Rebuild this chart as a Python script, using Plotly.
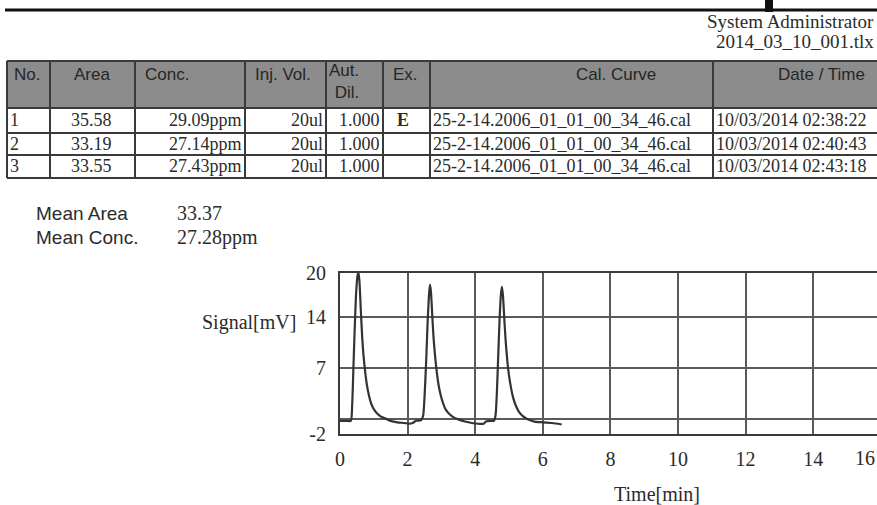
import plotly.graph_objects as go

# ---------------- data ----------------
time_min = [0.00, 0.20, 0.32, 0.36, 0.40, 0.44, 0.48, 0.52, 0.55, 0.58, 0.62, 0.66, 0.70, 0.75,
            0.80, 0.86, 0.92, 1.00, 1.10, 1.20, 1.35, 1.50, 1.70, 1.90, 2.05, 2.15, 2.25, 2.40,
            2.46, 2.50, 2.55, 2.59, 2.63, 2.66, 2.69, 2.73, 2.77, 2.82, 2.87, 2.92, 2.98, 3.05,
            3.12, 3.22, 3.35, 3.50, 3.70, 3.90, 4.10, 4.25, 4.32, 4.45, 4.55,
            4.60, 4.64, 4.68, 4.72, 4.76, 4.79, 4.82, 4.86, 4.90, 4.95, 5.00, 5.06, 5.12, 5.20,
            5.30, 5.42, 5.55, 5.75, 6.00, 6.25, 6.45, 6.56]
signal_mv = [-0.2, -0.2, -0.2, 2.0, 7.5, 13.0, 17.5, 19.7, 20.0, 18.5, 14.5, 11.0, 8.5, 6.3,
             4.6, 3.2, 2.2, 1.4, 0.8, 0.4, 0.1, -0.2, -0.4, -0.5, -0.6, -0.5, -0.2, -0.1,
             0.5, 3.0, 8.0, 13.0, 16.8, 18.4, 17.5, 14.2, 11.0, 8.3, 6.2, 4.6, 3.3, 2.2,
             1.4, 0.8, 0.3, 0.0, -0.3, -0.5, -0.6, -0.6, -0.3, -0.2, -0.2,
             0.5, 3.5, 8.5, 13.5, 17.0, 18.1, 17.0, 13.8, 10.8, 8.0, 6.0, 4.3, 3.0, 1.9,
             1.0, 0.4, 0.0, -0.3, -0.4, -0.5, -0.6, -0.7]

x_ticks = [0, 2, 4, 6, 8, 10, 12, 14]
x_last_tick = "16"
y_tickvals = [-2, 0, 7, 14, 20]
y_ticktext = ["-2", "", "7", "14", "20"]

table_headers = ["No.", "Area", "Conc.", "Inj. Vol.", "Aut.<br>Dil.", "Ex.", "Cal. Curve", "Date / Time"]
row_no = ["1", "2", "3"]
row_area = ["35.58", "33.19", "33.55"]
row_conc = ["29.09ppm", "27.14ppm", "27.43ppm"]
row_inj = ["20ul", "20ul", "20ul"]
row_dil = ["1.000", "1.000", "1.000"]
row_ex = ["E", "", ""]
row_cal = ["25-2-14.2006_01_01_00_34_46.cal"] * 3
row_date = ["10/03/2014 02:38:22", "10/03/2014 02:40:43", "10/03/2014 02:43:18"]
mean_labels = ["Mean Area", "Mean Conc."]
mean_values = ["33.37", "27.28ppm"]

# ---------------- layout helpers ----------------
W, H = 877, 505
PL, PR, PT, PB = 340, 877, 273, 434  # plot area in pixels


def px(x):
    return (x - PL) / (PR - PL)


def py(y):
    return (PB - y) / (PB - PT)


SERIF = "Liberation Serif, Times New Roman, serif"
SANS = "Liberation Sans, Arial, sans-serif"
TXT = "#2b2b2b"

fig = go.Figure()
fig.add_trace(go.Scatter(x=time_min, y=signal_mv, mode="lines",
                         line=dict(color="#333333", width=2.2, shape="spline", smoothing=0.6),
                         showlegend=False, hoverinfo="skip"))

ann = []
shapes = []


def text(x, y, s, size, font=SERIF, anchor="left", bold=False, color=TXT):
    if bold:
        s = "<b>" + s + "</b>"
    ann.append(dict(x=px(x), y=py(y), xref="paper", yref="paper", text=s, showarrow=False,
                    xanchor=anchor, yanchor="middle", align=anchor,
                    font=dict(family=font, size=size, color=color)))


def line(x0, y0, x1, y1, color="#3a3a3a", width=2):
    shapes.append(dict(type="line", xref="paper", yref="paper", x0=px(x0), y0=py(y0),
                       x1=px(x1), y1=py(y1), line=dict(color=color, width=width)))


# top rule and header texts
line(5, 10, 890, 10, color="#111111", width=3)
shapes.append(dict(type="rect", xref="paper", yref="paper", x0=px(765), x1=px(773), y0=py(0),
                   y1=py(12), fillcolor="#111111", line=dict(width=0)))
text(876, 21, "System Administrator", 19, anchor="right")
text(876, 42, "2014_03_10_001.tlx", 19, anchor="right")

# table
col_x = [7, 50, 135, 245, 326, 383, 430, 713, 890]
row_y = [61, 108, 133, 155, 178]
shapes.append(dict(type="rect", xref="paper", yref="paper", x0=px(7), x1=px(890), y0=py(61),
                   y1=py(108), fillcolor="#8c8c8c", line=dict(width=0), layer="below"))
for yy in row_y:
    line(7, yy, 890, yy)
for xx in col_x[:-1]:
    line(xx, 61, xx, 178)

hdr_pos = [(12, "left"), (92, "center"), (143, "left"), (253, "left"), (361, "right"),
           (391, "left"), (616, "center"), (776, "left")]
for (hx, anc), h in zip(hdr_pos, table_headers):
    yy = 82 if "<br>" in h else 74
    text(hx, yy, h, 17, font=SANS, anchor=anc, color="#262626")

row_c = [120, 144, 166]
for i in range(3):
    yy = row_c[i]
    text(8, yy, row_no[i], 18)
    text(91, yy, row_area[i], 18, anchor="center")
    text(244, yy, row_conc[i], 18, anchor="right")
    text(325, yy, row_inj[i], 18, anchor="right")
    text(382, yy, row_dil[i], 18, anchor="right")
    if row_ex[i]:
        text(403, yy, row_ex[i], 18, anchor="center", bold=True)
    text(431, yy, row_cal[i], 18)
    text(714, yy, row_date[i], 18)

# means
for i, (lab, val) in enumerate(zip(mean_labels, mean_values)):
    yy = [213, 237][i]
    text(34, yy, lab, 19, font=SANS)
    text(175, yy, val, 20)

# chart labels
text(249, 322, "Signal[mV]", 20, anchor="center")
text(657, 494, "Time[min]", 20, anchor="center")
text(877, 458, x_last_tick, 20, anchor="right")

fig.update_layout(
    width=W, height=H,
    margin=dict(l=PL, r=W - PR, t=PT, b=H - PB, pad=0),
    paper_bgcolor="white", plot_bgcolor="white",
    annotations=ann, shapes=shapes,
    xaxis=dict(range=[0, (PR - PL) / 33.8], tickvals=x_ticks, showgrid=True, gridcolor="#5a5a5a",
               gridwidth=1.5, zeroline=False, showline=True, linecolor="#3a3a3a", linewidth=2,
               mirror=True, ticks="outside", ticklen=6, tickcolor="rgba(0,0,0,0)",
               tickfont=dict(family=SERIF, size=20, color=TXT)),
    yaxis=dict(range=[-2, 20], tickvals=y_tickvals, ticktext=y_ticktext, showgrid=True,
               gridcolor="#5a5a5a", gridwidth=1.5, zeroline=False, showline=True,
               linecolor="#3a3a3a", linewidth=2, ticks="outside", ticklen=8,
               tickcolor="rgba(0,0,0,0)", tickfont=dict(family=SERIF, size=20, color=TXT)),
)

fig.write_html("out.html")
